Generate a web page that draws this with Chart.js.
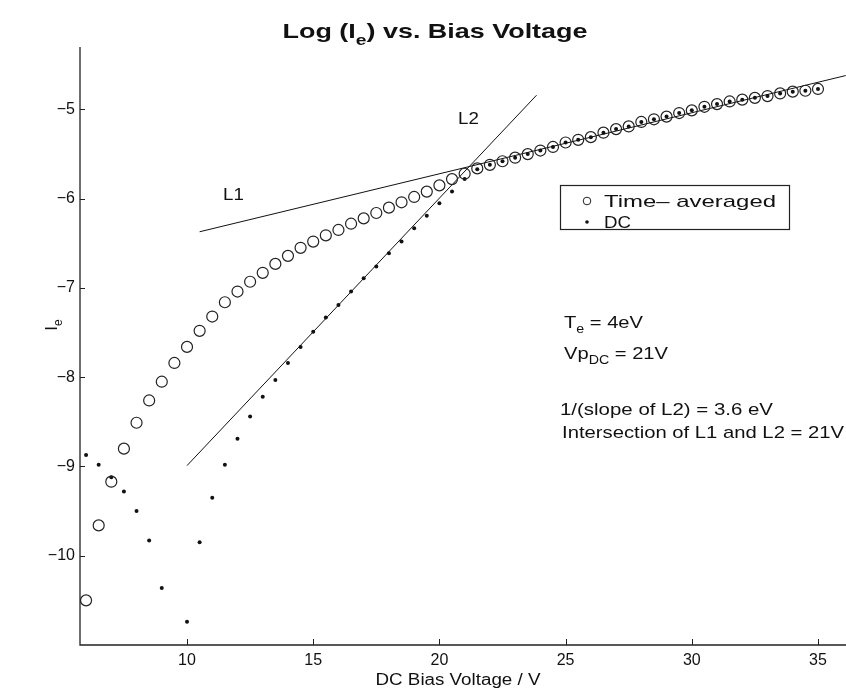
<!DOCTYPE html>
<html>
<head>
<meta charset="utf-8">
<title>Log (Ie) vs. Bias Voltage</title>
<script src="https://cdn.jsdelivr.net/npm/chart.js@4.4.1/dist/chart.umd.min.js"></script>
<style>
    html, body { margin: 0; padding: 0; background: #fff; overflow: hidden; }
    #wrap { width: 846px; height: 689px; }
    canvas { display: block; }
</style>
</head>
<body>
<div id="wrap"><canvas id="chart" width="846" height="689"></canvas></div>
<script>
// Log(Ie) vs bias voltage

const voltage = [
    6, 6.5, 7, 7.5, 8, 8.5, 9, 9.5, 10, 10.5,
    11, 11.5, 12, 12.5, 13, 13.5, 14, 14.5, 15, 15.5,
    16, 16.5, 17, 17.5, 18, 18.5, 19, 19.5, 20, 20.5,
    21, 21.5, 22, 22.5, 23, 23.5, 24, 24.5, 25, 25.5,
    26, 26.5, 27, 27.5, 28, 28.5, 29, 29.5, 30, 30.5,
    31, 31.5, 32, 32.5, 33, 33.5, 34, 34.5, 35
];

const timeAveraged = [
    -10.50, -9.66, -9.17, -8.80, -8.51, -8.26, -8.05, -7.84, -7.66, -7.48,
    -7.32, -7.16, -7.04, -6.93, -6.83, -6.73, -6.64, -6.55, -6.48, -6.41,
    -6.35, -6.28, -6.22, -6.16, -6.10, -6.04, -5.98, -5.92, -5.85, -5.78,
    -5.72, -5.66, -5.62, -5.58, -5.54, -5.50, -5.46, -5.42, -5.37, -5.34,
    -5.31, -5.26, -5.22, -5.19, -5.14, -5.11, -5.08, -5.04, -5.01, -4.97,
    -4.94, -4.91, -4.89, -4.87, -4.85, -4.82, -4.80, -4.79, -4.77
];

// 9.5 V falls below the axis in the original
const dcValues = [
    -8.87, -8.98, -9.12, -9.28, -9.50, -9.83, -10.36, null, -10.74, -9.85,
    -9.35, -8.98, -8.69, -8.44, -8.22, -8.03, -7.84, -7.66, -7.49, -7.33,
    -7.19, -7.04, -6.89, -6.76, -6.61, -6.48, -6.33, -6.19, -6.05, -5.92,
    -5.78, -5.67, -5.62, -5.58, -5.54, -5.50, -5.46, -5.42, -5.37, -5.34,
    -5.31, -5.26, -5.22, -5.19, -5.14, -5.11, -5.08, -5.04, -5.01, -4.97,
    -4.94, -4.91, -4.89, -4.87, -4.85, -4.82, -4.80, -4.79, -4.77
];

// fitted lines
const l1X = [10.5, 36.1];
const l1Y = [-6.37, -4.62];
const l2X = [10, 23.85];
const l2Y = [-8.99, -4.84];

const xTicks = [10, 15, 20, 25, 30, 35];
const yTicks = [-10, -9, -8, -7, -6, -5];

const FONT = '"Liberation Sans", Arial, sans-serif';
const INK = "#111";

// ====================== HELPERS ======================

function toPoints(xs, ys) {
    return xs.map((x, i) => ({ x: x, y: ys[i] }));
}

// draws text made of parts (some subscripted), optionally stretched to a width
function drawRich(ctx, parts, x, y, size, opts = {}) {
    const weight = opts.bold ? "bold " : "";
    const subSize = Math.round(size * 0.72);
    const widths = parts.map(p => {
        ctx.font = `${weight}${p.sub ? subSize : size}px ${FONT}`;
        return ctx.measureText(p.t).width;
    });
    const total = widths.reduce((a, b) => a + b, 0);
    const sx = opts.width ? opts.width / total : (opts.stretch || 1);
    let start = x;
    if (opts.align === "center") start = x - total * sx / 2;

    ctx.save();
    ctx.translate(start, y);
    ctx.scale(sx, 1);
    ctx.fillStyle = INK;
    ctx.textAlign = "left";
    ctx.textBaseline = "alphabetic";
    let cx = 0;
    parts.forEach((p, i) => {
        ctx.font = `${weight}${p.sub ? subSize : size}px ${FONT}`;
        ctx.fillText(p.t, cx, p.sub ? size * 0.32 : 0);
        cx += widths[i];
    });
    ctx.restore();
}

// ====================== DECOR PLUGIN ======================

const decorPlugin = {
    id: "decor",
    afterDraw(chart) {
        const ctx = chart.ctx;
        const area = chart.chartArea;
        const xs = chart.scales.x;
        const ys = chart.scales.y;

        // axes
        ctx.save();
        ctx.strokeStyle = "#222";
        ctx.lineWidth = 1.3;
        ctx.beginPath();
        ctx.moveTo(area.left, area.top);
        ctx.lineTo(area.left, area.bottom);
        ctx.lineTo(area.right, area.bottom);
        ctx.stroke();

        // inward tick marks
        ctx.lineWidth = 1;
        ctx.beginPath();
        yTicks.forEach(v => {
            const py = Math.round(ys.getPixelForValue(v)) + 0.5;
            ctx.moveTo(area.left, py);
            ctx.lineTo(area.left + 5, py);
        });
        xTicks.forEach(v => {
            const px = Math.round(xs.getPixelForValue(v)) + 0.5;
            ctx.moveTo(px, area.bottom);
            ctx.lineTo(px, area.bottom - 6);
        });
        ctx.stroke();
        ctx.restore();

        // title
        drawRich(ctx, [{ t: "Log (" }, { t: "I" }, { t: "e", sub: true }, { t: ") vs. Bias Voltage" }],
            435, 38, 21, { bold: true, align: "center", width: 305 });

        // axis titles
        drawRich(ctx, [{ t: "DC Bias Voltage / V" }], 458, 685, 16, { align: "center", width: 165 });
        ctx.save();
        ctx.translate(52, 325);
        ctx.rotate(-Math.PI / 2);
        drawRich(ctx, [{ t: "I" }, { t: "e", sub: true }], 0, 5, 17, { align: "center" });
        ctx.restore();

        // line labels
        drawRich(ctx, [{ t: "L1" }], 223, 200, 17, { stretch: 1.1 });
        drawRich(ctx, [{ t: "L2" }], 458, 124, 17, { stretch: 1.1 });

        // annotations
        drawRich(ctx, [{ t: "T" }, { t: "e", sub: true }, { t: " = 4eV" }], 564, 328, 17, { width: 79 });
        drawRich(ctx, [{ t: "Vp" }, { t: "DC", sub: true }, { t: " = 21V" }], 564, 359, 17, { width: 104 });
        drawRich(ctx, [{ t: "1/(slope of L2) = 3.6 eV" }], 560, 415, 17, { width: 213 });
        drawRich(ctx, [{ t: "Intersection of L1 and L2 = 21V" }], 562, 438, 17, { width: 282 });

        // legend
        ctx.save();
        ctx.strokeStyle = "#222";
        ctx.lineWidth = 1.2;
        ctx.strokeRect(560.5, 185.5, 229, 44);
        ctx.beginPath();
        ctx.arc(587, 201, 3.8, 0, Math.PI * 2);
        ctx.lineWidth = 1;
        ctx.stroke();
        ctx.fillStyle = INK;
        ctx.beginPath();
        ctx.arc(587, 222, 1.8, 0, Math.PI * 2);
        ctx.fill();
        ctx.restore();
        drawRich(ctx, [{ t: "Time\u2013 averaged" }], 604, 207, 17, { width: 172 });
        drawRich(ctx, [{ t: "DC" }], 604, 228, 17, { stretch: 1.1 });
    }
};

// ====================== CHART ======================

new Chart(document.getElementById("chart"), {
    type: "scatter",
    data: {
        datasets: [
            {
                label: "Time\u2013 averaged",
                data: toPoints(voltage, timeAveraged),
                pointStyle: "circle",
                pointRadius: 5.5,
                pointBorderWidth: 1.2,
                pointBorderColor: "#222",
                pointBackgroundColor: "rgba(0,0,0,0)"
            },
            {
                label: "DC",
                data: toPoints(voltage, dcValues),
                pointStyle: "circle",
                pointRadius: 2,
                pointBorderWidth: 0,
                pointBackgroundColor: INK
            },
            {
                label: "L1",
                data: toPoints(l1X, l1Y),
                showLine: true,
                borderColor: INK,
                borderWidth: 1,
                pointRadius: 0
            },
            {
                label: "L2",
                data: toPoints(l2X, l2Y),
                showLine: true,
                borderColor: INK,
                borderWidth: 1,
                pointRadius: 0
            }
        ]
    },
    options: {
        responsive: false,
        devicePixelRatio: 1,
        animation: false,
        layout: {
            autoPadding: false,
            padding: { top: 47, left: 0, right: 0, bottom: 0 }
        },
        plugins: {
            legend: { display: false },
            title: { display: false },
            tooltip: { enabled: false }
        },
        scales: {
            x: {
                type: "linear",
                min: 5.76,
                max: 36.11,
                afterBuildTicks: scale => { scale.ticks = xTicks.map(v => ({ value: v })); },
                afterFit: scale => {
                    scale.height = 44;
                    scale.paddingLeft = 0;
                    scale.paddingRight = 0;
                },
                grid: { display: false, drawTicks: false },
                border: { display: false },
                ticks: {
                    padding: 6,
                    color: INK,
                    font: { family: FONT, size: 16 },
                    maxRotation: 0,
                    callback: v => String(v)
                }
            },
            y: {
                type: "linear",
                min: -11.0,
                max: -4.3,
                afterBuildTicks: scale => { scale.ticks = yTicks.map(v => ({ value: v })); },
                afterFit: scale => {
                    scale.width = 80;
                    scale.paddingTop = 0;
                    scale.paddingBottom = 0;
                },
                grid: { display: false, drawTicks: false },
                border: { display: false },
                ticks: {
                    padding: 5,
                    color: INK,
                    font: { family: FONT, size: 16 },
                    callback: v => "\u2212" + Math.abs(v)
                }
            }
        }
    },
    plugins: [decorPlugin]
});
</script>
</body>
</html>
